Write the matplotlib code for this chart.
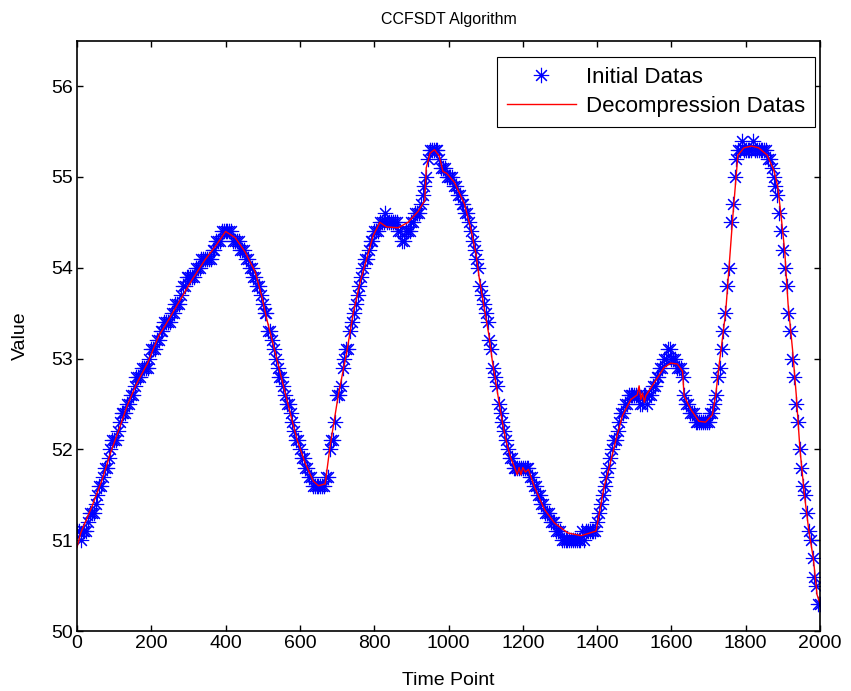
#!/usr/bin/env python3
"""Recreate the CCFSDT compression result plot (initial vs decompressed data)."""

import numpy as np
import matplotlib
matplotlib.use("Agg")
import matplotlib.pyplot as plt

plt.rcParams['font.family'] = ['Liberation Sans', 'DejaVu Sans']

# Initial (raw) samples, read every 5 time points, quantised to 0.1
time_points = np.arange(0, 2001, 5)
initial_values = [
    51.1, 51.1, 51.0, 51.1, 51.1, 51.1, 51.2, 51.3, 51.3, 51.3,  # 0-45
    51.4, 51.5, 51.6, 51.6, 51.7, 51.8, 51.8, 51.9, 52.0, 52.1,  # 50-95
    52.1, 52.1, 52.2, 52.3, 52.4, 52.4, 52.4, 52.5, 52.5, 52.6,  # 100-145
    52.6, 52.7, 52.8, 52.8, 52.8, 52.9, 52.9, 52.9, 52.9, 53.0,  # 150-195
    53.1, 53.1, 53.1, 53.2, 53.2, 53.3, 53.3, 53.4, 53.4, 53.4,  # 200-245
    53.4, 53.5, 53.5, 53.6, 53.6, 53.6, 53.7, 53.8, 53.8, 53.9,  # 250-295
    53.9, 53.9, 53.9, 53.9, 54.0, 54.0, 54.0, 54.1, 54.1, 54.1,  # 300-345
    54.1, 54.1, 54.1, 54.2, 54.2, 54.3, 54.3, 54.3, 54.4, 54.4,  # 350-395
    54.4, 54.4, 54.4, 54.4, 54.3, 54.3, 54.3, 54.3, 54.2, 54.2,  # 400-445
    54.2, 54.1, 54.1, 54.0, 54.0, 53.9, 53.9, 53.8, 53.8, 53.7,  # 450-495
    53.6, 53.5, 53.5, 53.3, 53.3, 53.2, 53.1, 53.0, 52.9, 52.8,  # 500-545
    52.8, 52.7, 52.6, 52.5, 52.5, 52.4, 52.3, 52.2, 52.1, 52.1,  # 550-595
    52.0, 51.9, 51.9, 51.8, 51.8, 51.7, 51.7, 51.6, 51.6, 51.6,  # 600-645
    51.6, 51.6, 51.6, 51.6, 51.7, 51.7, 52.0, 52.1, 52.1, 52.3,  # 650-695
    52.6, 52.6, 52.7, 52.9, 53.0, 53.1, 53.1, 53.3, 53.4, 53.5,  # 700-745
    53.6, 53.7, 53.8, 53.9, 54.0, 54.1, 54.1, 54.2, 54.3, 54.3,  # 750-795
    54.4, 54.4, 54.4, 54.5, 54.5, 54.5, 54.6, 54.5, 54.5, 54.5,  # 800-845
    54.5, 54.5, 54.5, 54.4, 54.4, 54.3, 54.3, 54.4, 54.4, 54.4,  # 850-895
    54.5, 54.5, 54.6, 54.6, 54.6, 54.7, 54.8, 54.9, 55.0, 55.2,  # 900-945
    55.3, 55.3, 55.3, 55.3, 55.3, 55.2, 55.1, 55.1, 55.1, 55.0,  # 950-995
    55.0, 55.0, 55.0, 54.9, 54.9, 54.8, 54.8, 54.7, 54.7, 54.6,  # 1000-1045
    54.6, 54.5, 54.4, 54.3, 54.2, 54.1, 54.0, 53.8, 53.7, 53.6,  # 1050-1095
    53.5, 53.4, 53.2, 53.1, 52.9, 52.8, 52.7, 52.5, 52.4, 52.3,  # 1100-1145
    52.2, 52.1, 52.0, 51.9, 51.9, 51.8, 51.8, 51.8, 51.8, 51.8,  # 1150-1195
    51.8, 51.8, 51.8, 51.8, 51.7, 51.7, 51.6, 51.6, 51.5, 51.5,  # 1200-1245
    51.4, 51.4, 51.3, 51.3, 51.3, 51.2, 51.2, 51.2, 51.1, 51.1,  # 1250-1295
    51.1, 51.0, 51.0, 51.0, 51.0, 51.0, 51.0, 51.0, 51.0, 51.0,  # 1300-1345
    51.0, 51.0, 51.1, 51.0, 51.1, 51.1, 51.1, 51.1, 51.1, 51.1,  # 1350-1395
    51.2, 51.3, 51.4, 51.5, 51.6, 51.7, 51.8, 51.9, 52.0, 52.1,  # 1400-1445
    52.1, 52.2, 52.3, 52.4, 52.4, 52.5, 52.5, 52.6, 52.6, 52.6,  # 1450-1495
    52.6, 52.6, 52.6, 52.5, 52.5, 52.6, 52.6, 52.5, 52.6, 52.6,  # 1500-1545
    52.7, 52.7, 52.8, 52.8, 52.9, 52.9, 53.0, 53.0, 53.1, 53.1,  # 1550-1595
    53.0, 53.0, 53.0, 52.9, 52.9, 52.9, 52.8, 52.6, 52.5, 52.5,  # 1600-1645
    52.4, 52.4, 52.4, 52.3, 52.3, 52.3, 52.3, 52.3, 52.3, 52.3,  # 1650-1695
    52.3, 52.4, 52.4, 52.5, 52.6, 52.8, 52.9, 53.1, 53.3, 53.5,  # 1700-1745
    53.8, 54.0, 54.5, 54.7, 55.0, 55.2, 55.3, 55.3, 55.4, 55.3,  # 1750-1795
    55.3, 55.3, 55.3, 55.3, 55.4, 55.3, 55.3, 55.3, 55.3, 55.3,  # 1800-1845
    55.3, 55.3, 55.2, 55.2, 55.1, 55.0, 54.9, 54.8, 54.6, 54.4,  # 1850-1895
    54.2, 54.0, 53.8, 53.5, 53.3, 53.0, 52.8, 52.5, 52.3, 52.0,  # 1900-1945
    51.8, 51.6, 51.5, 51.3, 51.1, 51.0, 50.8, 50.6, 50.5, 50.3,  # 1950-1995
    50.3,                                                        # 2000
]

# Decompressed data: vertices of the reconstructed piecewise line
decomp_time = [
    0, 10, 40, 68, 90, 113, 135, 160, 190, 220, 247, 274, 310, 345, 375,
    400, 426, 453, 480, 497, 511, 529, 547, 569, 592, 614, 636, 650, 668,
    681, 703, 726, 744, 762, 779, 797, 815, 833, 864, 891, 918, 936, 940,
    950, 962, 975, 985, 995, 1016, 1043, 1060, 1074, 1083, 1096, 1109,
    1118, 1132, 1145, 1154, 1167, 1178, 1185, 1190, 1195, 1200, 1207, 1215,
    1231, 1258, 1285, 1321, 1357, 1397, 1406, 1419, 1433, 1451, 1468, 1491,
    1508, 1513, 1518, 1522, 1527, 1531, 1553, 1580, 1598, 1616, 1630, 1634,
    1652, 1674, 1692, 1710, 1719, 1728, 1737, 1746, 1755, 1765, 1772, 1779,
    1795, 1815, 1835, 1858, 1876, 1886, 1895, 1905, 1914, 1926, 1936, 1946,
    1958, 1970, 1982, 1992, 2000,
]
decomp_values = [
    50.92, 51.08, 51.37, 51.67, 51.96, 52.22, 52.48, 52.72, 52.95, 53.25,
    53.43, 53.62, 53.87, 54.09, 54.25, 54.40, 54.33, 54.17, 53.95, 53.69,
    53.43, 53.14, 52.84, 52.48, 52.11, 51.85, 51.65, 51.60, 51.62, 52.03,
    52.59, 53.07, 53.51, 53.84, 54.09, 54.35, 54.50, 54.45, 54.44, 54.50,
    54.62, 54.74, 55.10, 55.26, 55.30, 55.23, 55.06, 55.04, 54.94, 54.70,
    54.43, 54.15, 53.88, 53.56, 53.25, 52.97, 52.62, 52.30, 52.11, 51.91,
    51.80, 51.72, 51.80, 51.72, 51.80, 51.75, 51.78, 51.59, 51.34, 51.19,
    51.08, 51.05, 51.10, 51.30, 51.59, 51.81, 52.11, 52.37, 52.55, 52.60,
    52.70, 52.55, 52.62, 52.52, 52.59, 52.73, 52.90, 52.95, 52.94, 52.86,
    52.59, 52.44, 52.31, 52.30, 52.38, 52.59, 52.92, 53.21, 53.51, 54.00,
    54.55, 54.90, 55.24, 55.32, 55.34, 55.32, 55.24, 55.07, 54.90, 54.58,
    54.18, 53.60, 53.10, 52.60, 52.00, 51.50, 51.10, 50.80, 50.40, 50.30,
]

x_ticks = list(range(0, 2001, 200))
y_ticks = [50, 51, 52, 53, 54, 55, 56]


def main():
    fig = plt.figure(figsize=(8.51, 6.91), dpi=100)
    ax = fig.add_axes([0.0905, 0.0868, 0.8731, 0.8543])

    # MATLAB-style asterisk marker (8 spokes)
    ax.plot(time_points, initial_values, linestyle='none', marker=(8, 2, 0),
            markersize=11, markeredgewidth=0.8, color='#0000ff',
            label='Initial Datas')
    ax.plot(decomp_time, decomp_values, '-', color='#ff0000', linewidth=1.0,
            label='Decompression Datas')

    ax.set_xlim(0, 2000)
    ax.set_ylim(50, 56.5)
    ax.set_xticks(x_ticks)
    ax.set_yticks(y_ticks)
    ax.tick_params(direction='in', top=True, right=True, length=4,
                   width=1.0, labelsize=14, pad=3)
    for spine in ax.spines.values():
        spine.set_linewidth(1.2)

    ax.set_title('CCFSDT Algorithm', fontsize=11.5, pad=12)
    ax.set_xlabel('Time Point', fontsize=14, labelpad=14)
    ax.set_ylabel('Value', fontsize=14, labelpad=16)

    leg = ax.legend(loc='upper right', bbox_to_anchor=(815 / 851, 1 - 57 / 691),
                    bbox_transform=fig.transFigure, fontsize=16,
                    handlelength=3.1, borderaxespad=0, fancybox=False,
                    framealpha=1, edgecolor='black', borderpad=0.45,
                    labelspacing=0.35, handletextpad=0.45)
    leg.get_frame().set_linewidth(0.8)

    fig.savefig('out.png', dpi=100)
    print("Plot saved to: out.png")


if __name__ == '__main__':
    main()
